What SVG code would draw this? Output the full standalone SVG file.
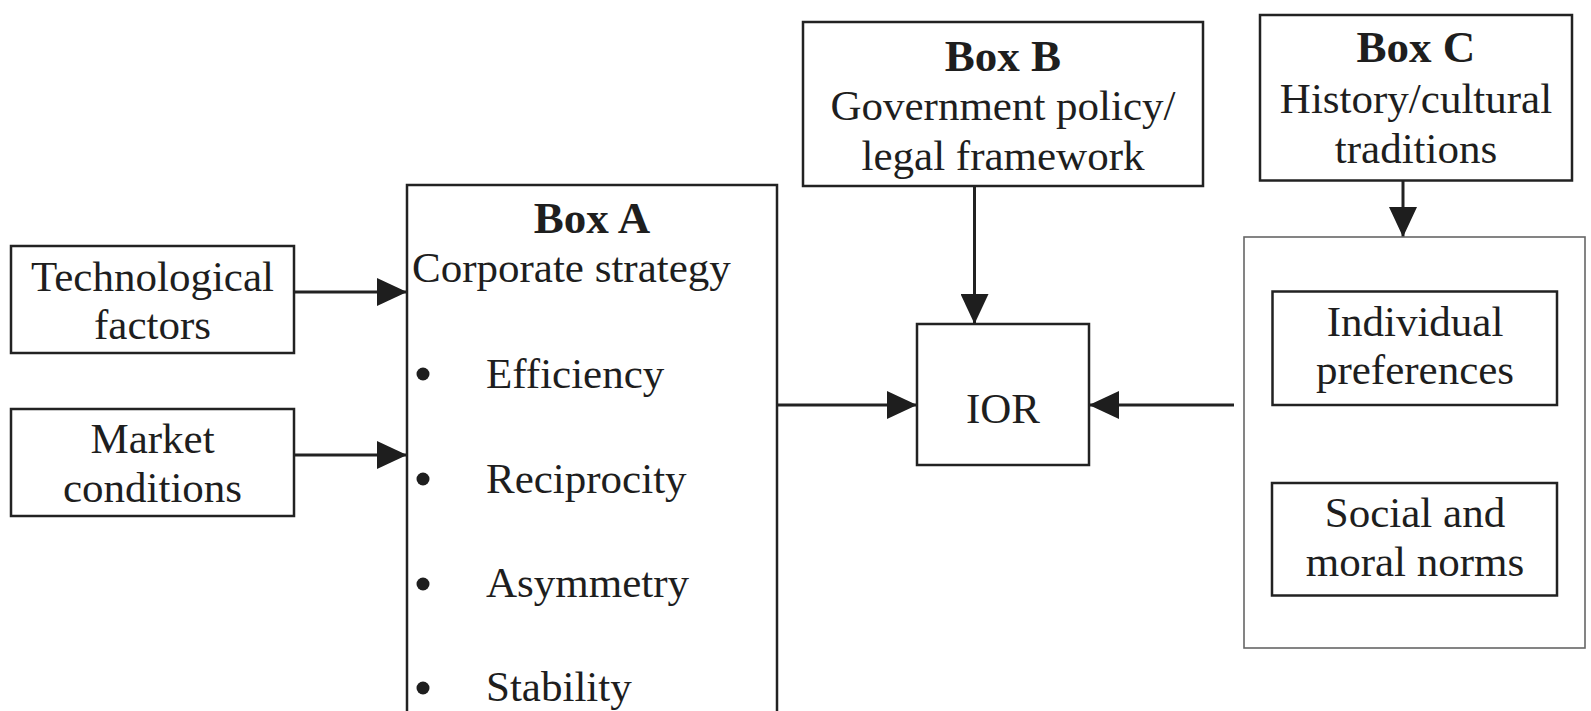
<svg xmlns="http://www.w3.org/2000/svg" width="1591" height="711" viewBox="0 0 1591 711">
<defs>
<style>
.box{fill:#fff;stroke:#222;stroke-width:2.5}
.cont{fill:none;stroke:#666;stroke-width:1.6}
.t{font-family:"Liberation Serif","Times New Roman",serif;font-size:43px;fill:#1e1e1e}
.c{text-anchor:middle}
.b{font-weight:bold;font-size:45px}
.ln{stroke:#222;stroke-width:3;fill:none;marker-end:url(#ah)}
</style>
<marker id="ah" markerUnits="userSpaceOnUse" viewBox="0 0 30 28" markerWidth="30" markerHeight="28" refX="30" refY="14" orient="auto">
<path d="M0,0 L30,14 L0,28 z" fill="#1e1e1e"/>
</marker>
</defs>
<rect width="1591" height="711" fill="#fff"/>

<g id="connectors">
<path class="ln" d="M294,292 L407,292"/>
<path class="ln" d="M294,455 L407,455"/>
<path class="ln" d="M777,405 L917,405"/>
<path class="ln" d="M1234,405 L1089,405"/>
<path class="ln" d="M974.5,186 L974.5,324"/>
<path class="ln" d="M1403,180 L1403,237"/>
</g>

<g id="tech">
<rect class="box" x="11" y="246" width="283" height="107"/>
<text class="t c" x="152.5" y="291">Technological</text>
<text class="t c" x="152.5" y="339">factors</text>
</g>

<g id="market">
<rect class="box" x="11" y="409" width="283" height="107"/>
<text class="t c" x="152.5" y="453">Market</text>
<text class="t c" x="152.5" y="502">conditions</text>
</g>

<g id="boxA">
<rect class="box" x="407" y="185" width="370" height="540"/>
<text class="t c b" x="592" y="233">Box A</text>
<text class="t" x="412" y="282">Corporate strategy</text>
<circle cx="423" cy="374" r="6.5" fill="#1e1e1e"/>
<text class="t" x="486" y="388">Efficiency</text>
<circle cx="423" cy="479" r="6.5" fill="#1e1e1e"/>
<text class="t" x="486" y="493">Reciprocity</text>
<circle cx="423" cy="584" r="6.5" fill="#1e1e1e"/>
<text class="t" x="486" y="597">Asymmetry</text>
<circle cx="423" cy="688" r="6.5" fill="#1e1e1e"/>
<text class="t" x="486" y="701">Stability</text>
</g>

<g id="boxB">
<rect class="box" x="803" y="22" width="400" height="164"/>
<text class="t c b" x="1003" y="71">Box B</text>
<text class="t c" x="1003" y="120">Government policy/</text>
<text class="t c" x="1003" y="170">legal framework</text>
</g>

<g id="boxC">
<rect class="box" x="1260" y="15" width="312" height="165.5"/>
<text class="t c b" x="1416" y="62">Box C</text>
<text class="t c" x="1416" y="113">History/cultural</text>
<text class="t c" x="1416" y="163">traditions</text>
</g>

<g id="ior">
<rect class="box" x="917" y="324" width="172" height="141"/>
<text class="t c" x="1003" y="423">IOR</text>
</g>

<g id="container">
<rect class="cont" x="1244" y="237" width="341" height="411"/>
</g>

<g id="individual">
<rect class="box" x="1272.5" y="291.5" width="284.5" height="113.5"/>
<text class="t c" x="1415" y="336">Individual</text>
<text class="t c" x="1415" y="384">preferences</text>
</g>

<g id="social">
<rect class="box" x="1272" y="483" width="285" height="112.5"/>
<text class="t c" x="1415" y="527">Social and</text>
<text class="t c" x="1415" y="576">moral norms</text>
</g>
</svg>
